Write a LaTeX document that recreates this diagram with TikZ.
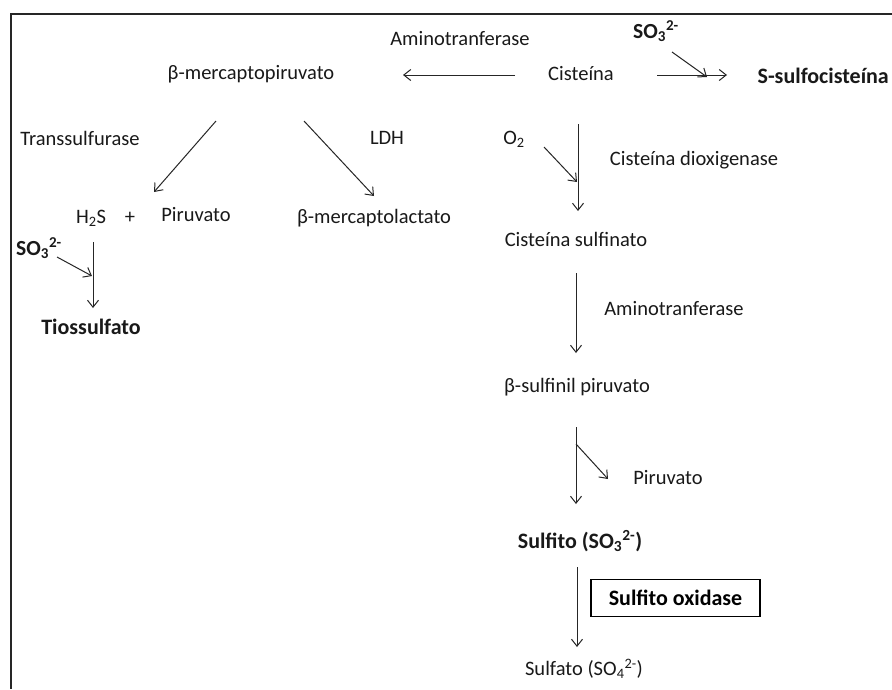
\documentclass[tikz,border=0pt]{standalone}
\usepackage{fontspec}
\setmainfont{Carlito}
\usetikzlibrary{arrows.meta}
\tikzset{
  lbl/.style={inner sep=0pt, font=\fontsize{20.5}{24}\selectfont, text=black!90},
  blbl/.style={lbl, font=\fontsize{22}{26}\selectfont\bfseries},
  sm/.style={inner sep=0pt, font=\fontsize{21.5}{25}\selectfont\bfseries, text=black!90},
  rx/.style={draw=black!85, line width=1pt, -{Straight Barb[length=7pt,width=11pt,line width=1pt]}},
  frame/.style={draw=black!85, line width=1.4pt},
  enzbox/.style={draw=black, line width=1.9pt, minimum width=169pt, minimum height=37pt, inner sep=0pt, font=\fontsize{22}{26}\selectfont\bfseries}
}
\begin{document}
\begin{tikzpicture}[x=1pt,y=-1pt]
\useasboundingbox (0,0) rectangle (892,689);
\fill[white] (0,0) rectangle (892,689);
% frame
\coordinate (f1) at (892,14);
\coordinate (f0) at (11,14);
\coordinate (f2) at (11,689);
\draw[frame] (f1) -- (f0) -- (f2);

% nodes
\node[lbl] (amino1) at (460,39) {Aminotranferase};
\node[sm] (so3a) at (656,31) {SO\textsubscript{3}\textsuperscript{2-}};
\node[lbl] (bmp) at (251,74) {β-mercaptopiruvato};
\node[lbl] (cis) at (581,74) {Cisteína};
\node[blbl, anchor=east] (ssc) at (889,76) {S-sulfocisteína};
\node[lbl] (trans) at (80,138) {Transsulfurase};
\node[lbl] (ldh) at (387,138) {LDH};
\node[lbl] (o2) at (514,139) {O\textsubscript{2}};
\node[lbl] (cdo) at (694,160) {Cisteína dioxigenase};
\node[lbl] (h2s) at (91,218) {H\textsubscript{2}S};
\node[lbl] (plus) at (130,218) {+};
\node[lbl] (pir1) at (196,215) {Piruvato};
\node[lbl] (bml) at (374,218) {β-mercaptolactato};
\node[sm] (so3b) at (39,248) {SO\textsubscript{3}\textsuperscript{2-}};
\node[blbl] (tio) at (91,327) {Tiossulfato};
\node[lbl] (csf) at (576,239) {Cisteína sulfinato};
\node[lbl] (amino2) at (674,309) {Aminotranferase};
\node[lbl] (bsp) at (577,387) {β-sulfinil piruvato};
\node[lbl] (pir2) at (668,478) {Piruvato};
\node[blbl] (sulfito) at (580,541) {Sulfito (SO\textsubscript{3}\textsuperscript{2-})};
\node[enzbox] (sox) at (675.5,598) {Sulfito oxidase};
\node[lbl] (sulfato) at (584,669) {Sulfato (SO\textsubscript{4}\textsuperscript{2-})};

% arrow end points
\coordinate (a1s) at (515,75);  \coordinate (a1e) at (403,75);
\coordinate (a2s) at (657,75);  \coordinate (a2e) at (727,75);
\coordinate (a3s) at (672,52);  \coordinate (a3e) at (707,77);
\coordinate (a4s) at (216,121); \coordinate (a4e) at (154,192);
\coordinate (a5s) at (304,121); \coordinate (a5e) at (374,196);
\coordinate (a6s) at (578,124); \coordinate (a6e) at (578,211);
\coordinate (a7s) at (544,147); \coordinate (a7e) at (577,182);
\coordinate (a8s) at (93,242);  \coordinate (a8e) at (93,308);
\coordinate (a9s) at (57,257);  \coordinate (a9e) at (92,276);
\coordinate (b1s) at (576,273); \coordinate (b1e) at (576,353);
\coordinate (b2s) at (576,427); \coordinate (b2e) at (576,504);
\coordinate (b3s) at (576,444); \coordinate (b3e) at (608,479);
\coordinate (b4s) at (577,567); \coordinate (b4e) at (577,647);

\draw[rx] (a1s) -- (a1e);
\draw[rx] (a2s) -- (a2e);
\draw[rx] (a3s) -- (a3e);
\draw[rx] (a4s) -- (a4e);
\draw[rx] (a5s) -- (a5e);
\draw[rx] (a6s) -- (a6e);
\draw[rx] (a7s) -- (a7e);
\draw[rx] (a8s) -- (a8e);
\draw[rx] (a9s) -- (a9e);
\draw[rx] (b1s) -- (b1e);
\draw[rx] (b2s) -- (b2e);
\draw[rx] (b3s) -- (b3e);
\draw[rx] (b4s) -- (b4e);
\end{tikzpicture}
\end{document}
